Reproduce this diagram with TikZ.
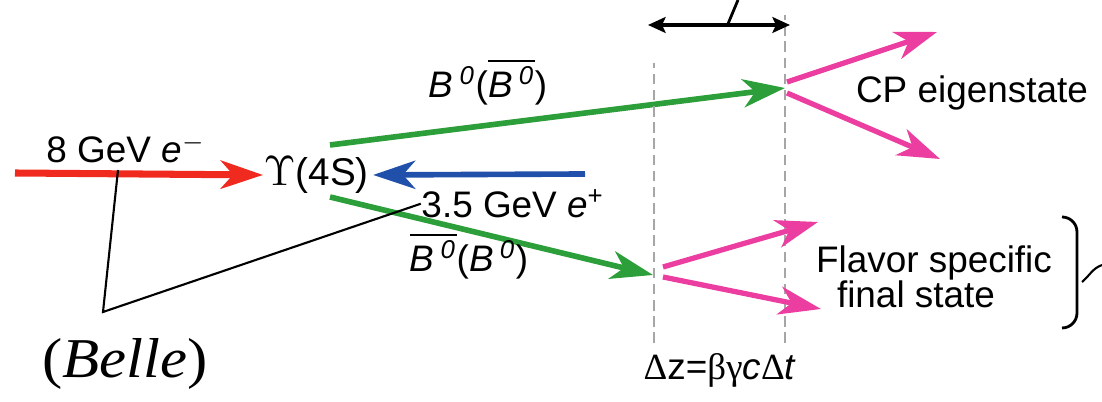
\documentclass[tikz,border=0pt]{standalone}
\usepackage{fontspec}
\setmainfont{Liberation Sans}
\newfontfamily\timesfont{Liberation Serif}
\usetikzlibrary{arrows.meta,positioning,calc}

\definecolor{eRed}{RGB}{240,42,30}
\definecolor{eBlue}{RGB}{32,80,170}
\definecolor{bGreen}{RGB}{44,158,58}
\definecolor{dPink}{RGB}{236,62,160}

\newcommand{\Bz}{\textit{B}\,\textsuperscript{\textit{0}}}
\newcommand{\Bzbar}{$\overline{\mbox{\Bz}}$}

\begin{document}
\begin{tikzpicture}[>=Stealth,font=\fontsize{10.5}{12}\selectfont,
 lbl/.style={inner sep=0pt,anchor=base},
 tip/.style={-{Stealth[length=12pt,width=8pt,inset=3.5pt]}},
 beam/.style={tip,line width=2pt},
 meson/.style={tip,line width=1.6pt,draw=bGreen},
 decay/.style={tip,line width=1.5pt,draw=dPink},
 vtx/.style={draw=gray!70,line width=0.8pt,dash pattern=on 3pt off 1.6pt},
 lead/.style={draw,line width=0.6pt}]
\useasboundingbox (0,0) rectangle (11.02,4.02);
% beams
\node[inner sep=0pt,anchor=west] (ups) at (2.63,2.27)
 {\fontsize{12.5}{14}\selectfont$\Upsilon$\fontsize{11}{14}\selectfont(4S)};
\coordinate (estart) at (0.15,2.29);
\coordinate (pstart) at (5.85,2.28);
\draw[beam,eRed] (estart) -- (ups.west);
\draw[beam,eBlue,line width=1.6pt,shorten >=1pt] (pstart) -- (ups.east);
\node[lbl] (elab) at (1.26,2.39) {8 GeV \textit{e}\textsuperscript{$-$}};
\node[lbl] (plab) at (5.13,1.84) {3.5 GeV \textit{e}\textsuperscript{+}};
% B mesons
\coordinate (bup) at (3.30,2.57);
\coordinate (bdn) at (3.30,2.05);
\coordinate (cpv) at (7.85,3.14);
\coordinate (tagv) at (6.53,1.27);
\draw[meson] (bup) -- (cpv);
\draw[meson] (bdn) -- (tagv);
\node[lbl] (bcp) at (4.88,3.04) {\Bz(\Bzbar)};
\node[lbl] (btag) at (4.69,1.30) {\Bzbar(\Bz)};
% decay vertices
\draw[vtx] (6.54,0.59) -- (6.54,3.39);
\draw[vtx] (7.85,0.59) -- (7.85,3.87);
\coordinate (cp1) at (9.37,3.70);
\coordinate (cp2) at (9.40,2.43);
\coordinate (fs1) at (8.18,1.80);
\coordinate (fs2) at (8.21,0.93);
\draw[decay] ([shift={(0.02,0.06)}]cpv) -- (cp1);
\draw[decay] ([shift={(0.02,-0.05)}]cpv) -- (cp2);
\draw[decay] ([shift={(0.10,0.08)}]tagv) -- (fs1);
\draw[decay] ([shift={(0.10,-0.02)}]tagv) -- (fs2);
\node[lbl] (cplab) at (9.72,2.99) {CP eigenstate};
\node[lbl] (fslab) at (9.34,1.29) {Flavor specific};
\node[lbl] (fslab2) at (9.16,0.94) {final state};
% decay length
\coordinate (dzl) at (6.48,3.77);
\coordinate (dzr) at (7.90,3.77);
\draw[{Stealth[length=5pt,width=4.5pt,inset=1pt]}-{Stealth[length=5pt,width=4.5pt,inset=1pt]},line width=0.9pt] (dzl) -- (dzr);
\coordinate (dzup) at (7.38,4.02);
\draw[lead,line width=0.8pt] ($(dzl)!0.56!(dzr)$) -- (dzup);
\node[lbl] (dz) at (7.20,0.22) {{\timesfont Δ}z={\timesfont βγ}\textit{c}{\timesfont Δ}\textit{t}};
% bracket
\draw[lead,line width=0.8pt] (10.62,1.85) to[out=0,in=90] (10.77,1.70) -- (10.77,0.89) to[out=-90,in=0] (10.62,0.74);
\coordinate (brk) at (10.82,1.20);
\coordinate (brkout) at (11.02,1.37);
\draw[lead] (brk) to[out=40,in=200] (brkout);
% experiment
\node[lbl,xscale=1.08] (belle) at (1.25,0.24) {\timesfont\fontsize{16}{17}\selectfont(\textit{Belle})};
\coordinate (bv) at (1.03,0.90);
\draw[lead] ([shift={(-0.08,-0.06)}]elab.south) -- (bv) -- (plab.west);
\end{tikzpicture}
\end{document}
